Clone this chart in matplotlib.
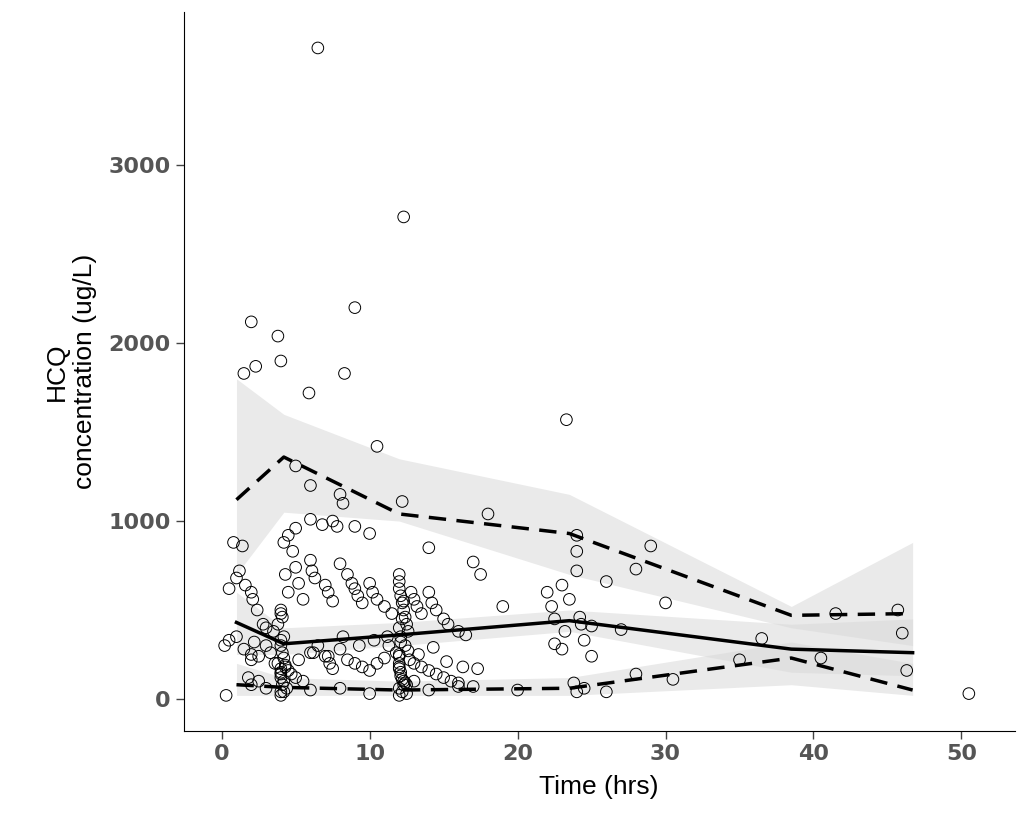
import matplotlib
matplotlib.use("Agg")
import matplotlib.pyplot as plt

# observed points (time, concentration)
obs_pairs = [
 (6.5,3660),(12.3,2710),(9,2200),(2,2120),(3.8,2040),(4,1900),(2.3,1870),(1.5,1830),(8.3,1830),(5.9,1720),
 (23.3,1570),(10.5,1420),(5,1310),(6,1200),(8,1150),(8.2,1100),(12.2,1110),(18,1040),(6,1010),(7.5,1000),
 (6.8,980),(9,970),(7.8,970),(10,930),(4.5,920),(4.2,880),(0.8,880),(1.4,860),(14,850),(24,920),
 (24,830),(29,860),(5,960),(4.8,830),
 (0.5,620),(1,680),(1.2,720),(1.6,640),(2,600),(2.1,560),(2.4,500),(2.8,420),(3,400),(3.5,380),
 (3.8,420),(4,500),(4,480),(4.1,460),(4.2,350),(4.3,700),(4.5,600),(5,740),(5.2,650),(5.5,560),
 (6,780),(6.1,720),(6.3,680),(7,640),(7.2,600),(7.5,550),(8,760),(8.5,700),(8.8,650),(9,620),
 (9.2,580),(9.5,540),(10,650),(10.2,600),(10.5,560),(11,520),(11.5,480),
 (12,700),(12,660),(12,620),(12.1,580),(12.2,540),(12.3,500),(12.4,460),(12.5,420),(12.6,380),(12.8,600),
 (13,560),(13.2,520),(13.5,480),(14,600),(14.2,540),(14.5,500),(15,450),(15.3,420),(16,380),(16.5,360),
 (17,770),(17.5,700),(19,520),(22,600),(22.3,520),(22.5,450),(23,640),(23.5,560),(24,720),(24.2,460),
 (24.5,330),(25,410),(26,660),(27,390),(28,730),(30,540),
 (0.2,300),(0.5,330),(1,350),(1.5,280),(2,250),(2,220),(2.2,320),(2.5,240),(3,300),(3.3,260),
 (3.8,200),(4,150),(4,120),(4,300),(4.1,260),(4.2,230),(4.3,180),(4.5,160),(4.7,140),(5,120),
 (5.5,100),(6,260),(6.5,300),(7,240),(7.3,200),(7.5,170),(8,280),(8.5,220),(9,200),(9.5,180),
 (10,160),(10.5,200),(11,230),(11.3,300),(11.8,260),(12,240),(12,200),(12,170),(12.1,150),(12.1,130),
 (12.2,110),(12.3,100),(12.4,90),(12.5,80),(12.7,220),(13,200),(13.5,180),(14,160),(14.5,140),(15,120),
 (15.5,100),(16,90),(17,70),(22.5,310),(23,280),(23.8,90),(24.5,60),(25,240),(26,40),(28,140),
 (30.5,110),(35,220),(36.5,340),(40.5,230),(41.5,480),(45.7,500),(46,370),(46.3,160),(50.5,30),
 (2,80),(3,60),(4,40),(4,20),(4.2,100),(4.4,60),(6,50),(8,60),(10,30),(12,60),
 (12,20),(12.2,40),(12.3,80),(12.5,30),(13,100),(14,50),(16,70),(20,50),(24,40),
 (0.3,20),(1.8,120),(2.5,100),(3.6,200),(4,170),(4.3,190),(5.2,220),(6.2,260),(7.2,240),(8.2,350),
 (9.3,300),(10.3,330),(11.2,350),(12,400),(12.1,320),(12.4,300),(12.6,270),(13.3,250),(14.3,290),(15.2,210),
 (16.3,180),(17.3,170),(23.2,380),(24.3,420),
 (4,140),(4.1,80),(4.2,40),(12,250),(12.1,350),(12.2,450),(12.3,550),(4,330),(12,180),
]
obs_x = [p[0] for p in obs_pairs]
obs_y = [p[1] for p in obs_pairs]

# VPC summaries
bin_x = [1, 4.2, 12, 23.5, 38.5, 46.7]
med = [430, 310, 360, 440, 280, 260]
hi = [1120, 1360, 1040, 930, 470, 480]
lo = [80, 65, 50, 60, 230, 50]
hi_lo = [700, 1050, 1000, 700, 400, 300]
hi_hi = [1800, 1600, 1350, 1150, 520, 880]
med_lo = [250, 250, 300, 380, 150, 130]
med_hi = [600, 400, 430, 500, 420, 450]
lo_lo = [20, 20, 20, 20, 80, 20]
lo_hi = [200, 120, 100, 120, 320, 200]

fig = plt.figure(figsize=(10.26, 8.25), dpi=100)
ax = fig.add_axes([0.179, 0.114, 0.81, 0.871])
for a, b in [(hi_lo, hi_hi), (med_lo, med_hi), (lo_lo, lo_hi)]:
    ax.fill_between(bin_x, a, b, color="#d9d9d9", alpha=0.55, lw=0)
ax.scatter(obs_x, obs_y, s=70, facecolors="none", edgecolors="black", linewidths=0.7)
ax.plot(bin_x, med, color="black", lw=2.5)
ax.plot(bin_x, hi, color="black", lw=2.5, ls=(0, (5, 3)))
ax.plot(bin_x, lo, color="black", lw=2.5, ls=(0, (5, 3)))
ax.set_xlim(-2.57, 53.6)
ax.set_ylim(-180, 3860)
ax.set_xticks([0, 10, 20, 30, 40, 50])
ax.set_yticks([0, 1000, 2000, 3000])
for s in ["top", "right"]:
    ax.spines[s].set_visible(False)
ax.tick_params(labelsize=16, colors="#444444", length=6, width=1)
for lab in ax.get_xticklabels() + ax.get_yticklabels():
    lab.set_fontweight("bold"); lab.set_color("#555555")
ax.set_xlabel("Time (hrs)", fontsize=19, family="Liberation Sans", labelpad=8)
ax.set_ylabel("HCQ\nconcentration (ug/L)", fontsize=19, family="Liberation Sans",
              labelpad=8, multialignment="center")
fig.savefig("out.png")
